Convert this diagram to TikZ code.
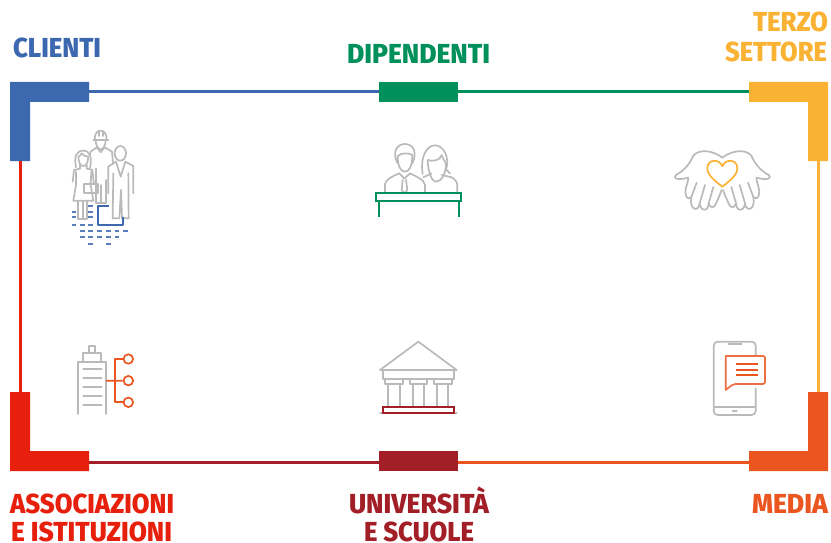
\documentclass[tikz,border=0pt]{standalone}
\usepackage{fontspec}
\usepackage{graphicx}
\newfontfamily\lab{Fira Sans}[BoldFont={Fira Sans ExtraBold}]
\definecolor{cblue}{HTML}{3B68AF}
\definecolor{cgreen}{HTML}{00905C}
\definecolor{cyellow}{HTML}{F9B233}
\definecolor{cred}{HTML}{E6200C}
\definecolor{cdark}{HTML}{A31F27}
\definecolor{corange}{HTML}{EA5520}
\definecolor{cgray}{HTML}{BABABA}
\newcommand{\lbl}[2]{\resizebox{#1pt}{\height}{\fontsize{27.5}{27.5}\lab\bfseries #2}}
\tikzset{
 x=1pt,y=-1pt,
 labeltext/.style={anchor=base west,inner sep=0pt,outer sep=0pt},
 midblock/.style={minimum width=79pt,minimum height=20pt,inner sep=0pt,outer sep=0pt,fill=#1},
 link/.style={line width=3pt,draw=#1},
 ico/.style={draw=cgray,line width=1.7pt,line join=round,line cap=round},
 icoc/.style={draw=#1,line width=1.7pt,line join=round},
}
\begin{document}
\begin{tikzpicture}
\useasboundingbox (0,0) rectangle (831,543);
% corners
\fill[cblue] (10,82) -- (89,82) -- (89,102) -- (30,102) -- (30,161) -- (10,161) -- cycle;
\fill[cyellow] (828,82) -- (749,82) -- (749,102) -- (808,102) -- (808,161) -- (828,161) -- cycle;
\fill[cred] (10,471) -- (89,471) -- (89,451) -- (30,451) -- (30,392) -- (10,392) -- cycle;
\fill[corange] (828,471) -- (749,471) -- (749,451) -- (808,451) -- (808,392) -- (828,392) -- cycle;
\coordinate (tlE) at (89,91.5); \coordinate (tlS) at (20,161);
\coordinate (trW) at (749,91.5); \coordinate (trS) at (818,161);
\coordinate (blE) at (89,462); \coordinate (blN) at (20,392);
\coordinate (brW) at (749,462); \coordinate (brN) at (818,392);
\node[midblock=cgreen] (tc) at (418.5,92) {};
\node[midblock=cdark] (bc) at (418.5,461) {};
\draw[link=cblue] (tlE) -- (tc.west|-tlE);
\draw[link=cgreen] (tc.east|-trW) -- (trW);
\draw[link=cred] (tlS) -- (blN);
\draw[link=cyellow] (trS) -- (brN);
\draw[link=cdark] (blE) -- (bc.west|-blE);
\draw[link=corange] (bc.east|-brW) -- (brW);
% labels
\node[labeltext,text=cblue] (l1) at (13,57.5) {\lbl{88}{CLIENTI}};
\node[labeltext,text=cgreen] (l2) at (347,63.5) {\lbl{143}{DIPENDENTI}};
\node[labeltext,text=cyellow] (l3a) at (753,32) {\lbl{75}{TERZO}};
\node[labeltext,text=cyellow] (l3b) at (725,62) {\lbl{102}{SETTORE}};
\node[labeltext,text=cred] (l4a) at (10,513.5) {\lbl{164}{ASSOCIAZIONI}};
\node[labeltext,text=cred] (l4b) at (11,541.5) {\lbl{161}{E ISTITUZIONI}};
\node[labeltext,text=cdark] (l5a) at (349,513.5) {\lbl{140}{UNIVERSITÀ}};
\node[labeltext,text=cdark] (l5b) at (364,541.5) {\lbl{110}{E SCUOLE}};
\node[labeltext,text=corange] (l6) at (752,513.5) {\lbl{76}{MEDIA}};
% clients icon
\begin{scope}[shift={(50,110)},scale=1/3]
 \draw[ico] (134,88) .. controls (134,68) and (144,62) .. (152,62) .. controls (160,62) and (170,68) .. (170,88);
 \draw[ico] (130,90) -- (175,90) (146,64) -- (146,78) (158,64) -- (158,78);
 \draw[ico] (137,92) .. controls (138,108) and (145,118) .. (152,118) .. controls (159,118) and (166,108) .. (167,92);
 \draw[ico] (140,112) -- (122,125) -- (120,135) (140,112) -- (152,127) -- (164,112) -- (186,125) -- (189,160);
 \draw[ico] (137,175) -- (137,278) -- (168,278) -- (168,210) (152,225) -- (152,278);
 % woman
 \draw[ico] (78,172) .. controls (72,140) and (78,122) .. (100,122) .. controls (122,122) and (126,145) .. (120,175);
 \draw[ico] (85,140) .. controls (86,160) and (92,168) .. (100,168) .. controls (108,168) and (114,160) .. (115,140) .. controls (105,140) and (98,135) .. (95,130) .. controls (92,135) and (88,140) .. (85,140);
 \draw[ico] (90,165) -- (90,176) -- (72,180) -- (68,215) (110,165) -- (110,176) -- (127,180) -- (132,222);
 \draw[ico] (78,185) -- (78,225) -- (70,272) -- (130,272) -- (122,225) -- (124,185);
 \draw[ico] (85,272) -- (85,328) -- (112,328) -- (112,272) (98,275) -- (98,328);
 \draw[ico] (103,222) rectangle (143,250);
 % suit man
 \draw[ico] (211,130) ellipse [x radius=17,y radius=22];
 \draw[ico] (175,250) -- (175,170) -- (198,155) -- (212,200) -- (226,155) -- (250,168) -- (250,250);
 \draw[ico] (190,190) -- (188,325) -- (208,325) -- (213,240) -- (216,325) -- (236,325) -- (235,190);
 \draw[icoc=cblue] (178,288) -- (145,288) -- (145,344) -- (218,344) -- (218,322);
 \foreach \yy/\xlist in {288/115,305/{65,115},322/{65,115},344/{65,90,115},362/{90,115,142,168,194,220},382/{90,115,142,168,194},401/{115,168}}
  \foreach \xx in \xlist
   \draw[cblue!85!white,line width=1.8pt] (\xx,\yy) -- ++(14,0);
\end{scope}
% employees icon
\begin{scope}[shift={(360,130)},scale=1/3]
 \draw[ico] (113,100) .. controls (96,70) and (108,42) .. (135,42) .. controls (162,42) and (172,70) .. (157,100);
 \draw[ico] (113,78) .. controls (125,68) and (145,68) .. (157,75);
 \draw[ico] (113,78) .. controls (113,108) and (122,125) .. (135,125) .. controls (148,125) and (157,108) .. (157,75);
 \draw[ico] (75,190) -- (75,162) .. controls (78,148) and (95,140) .. (118,130) -- (133,146) -- (150,130) .. controls (170,140) and (192,148) .. (195,165) -- (195,190);
 \draw[ico] (128,150) -- (125,180) -- (133,190) -- (142,180) -- (138,150);
 \draw[ico] (188,132) .. controls (180,80) and (200,46) .. (225,46) .. controls (252,46) and (270,85) .. (258,118) -- (270,130);
 \draw[ico] (203,90) .. controls (204,125) and (215,155) .. (228,155) .. controls (245,155) and (258,130) .. (258,100) .. controls (252,90) and (248,85) .. (245,75) .. controls (240,92) and (220,95) .. (203,90);
 \draw[ico] (190,142) -- (215,130) (245,135) -- (275,142) .. controls (285,148) and (292,155) .. (292,168) -- (292,188);
 \draw[cgray!60,line width=1pt] (105,216) -- (160,216);
 \node[draw=cgreen,line width=1.9pt,minimum width=85.3pt,minimum height=8pt,inner sep=0pt,fill=white] (desk) at (176,202) {};
 \coordinate (legL) at (56,262); \coordinate (legR) at (296,262);
 \draw[cgreen,line width=1.9pt] (legL|-desk.south) -- (legL) (legR|-desk.south) -- (legR);
\end{scope}
% hands icon
\begin{scope}[shift={(660,135)},scale=1/3]
 \def\handpath{
 \draw[ico] (187,68) .. controls (165,50) and (120,38) .. (100,62) .. controls (90,85) and (75,105) .. (48,120) .. controls (38,128) and (48,138) .. (85,128);
 \draw[ico] (85,132) .. controls (82,150) and (72,165) .. (78,182) .. controls (82,192) and (90,192) .. (94,186);
 \draw[ico] (110,143) -- (94,186) .. controls (90,205) and (95,222) .. (108,222) .. controls (114,222) and (117,215) .. (119,205);
 \draw[ico] (135,150) -- (119,205) .. controls (120,222) and (132,228) .. (140,222) .. controls (144,218) and (145,212) .. (146,205);
 \draw[ico] (160,156) -- (146,205) .. controls (150,220) and (162,220) .. (167,208) .. controls (175,190) and (180,178) .. (185,165);
 }
 \handpath
 \begin{scope}[shift={(374,0)},xscale=-1]
 \handpath
 \end{scope}
 \draw[icoc=cyellow] (187,155) .. controls (165,138) and (142,120) .. (142,100) .. controls (142,72) and (178,70) .. (187,94) .. controls (196,70) and (232,72) .. (232,100) .. controls (232,120) and (209,138) .. (187,155) -- cycle;
\end{scope}
% institutions icon
\begin{scope}[shift={(60,335)},scale=1/3]
 \draw[ico] (53,237) -- (53,80) -- (138,80) -- (138,237);
 \draw[ico] (68,80) -- (68,55) -- (122,55) -- (122,80);
 \draw[ico] (88,55) -- (88,32) -- (104,32) -- (104,55);
 \foreach \yy in {103,130,157,184,211} \draw[ico] (70,\yy) -- (125,\yy);
 \node[circle,draw=corange,line width=1.7pt,minimum size=9.5pt,inner sep=0pt] (c1) at (205,72) {};
 \node[circle,draw=corange,line width=1.7pt,minimum size=9.5pt,inner sep=0pt] (c2) at (205,137) {};
 \node[circle,draw=corange,line width=1.7pt,minimum size=9.5pt,inner sep=0pt] (c3) at (205,202) {};
 \coordinate (trunk) at (166,137);
 \draw[icoc=corange] (138,137) -- (c2.west);
 \draw[icoc=corange] (c1.west) -| (trunk) |- (c3.west);
\end{scope}
% university icon
\begin{scope}[shift={(365,330)},scale=1/3]
 \draw[ico] (45,120) -- (160,35) -- (275,120) -- cycle;
 \draw[ico] (53,120) -- (53,148) -- (268,148) -- (268,120);
 \foreach \xa/\xb in {60/113,135/187,207/260} \draw[ico] (\xa,148) -- (\xa,163) -- (\xb,163) -- (\xb,148);
 \foreach \xa/\xb in {70/105,143/178,215/250} {\draw[ico] (\xa,163) -- (\xa,232); \draw[ico] (\xb,163) -- (\xb,232);}
 \draw[ico] (45,250) -- (275,250);
 \draw[draw=cdark,line width=1.9pt,fill=white] (53,232) rectangle (268,250);
\end{scope}
% phone icon
\begin{scope}[shift={(700,330)},scale=1/3]
 \draw[ico,rounded corners=4pt] (167,78) -- (167,35) -- (41,35) -- (41,255) -- (167,255) -- (167,175);
 \draw[ico] (41,232) -- (167,232) (85,41) -- (125,41) (98,243) -- (110,243);
 \draw[icoc=corange!85!white,rounded corners=2pt] (85,78) -- (195,78) -- (195,162) -- (100,162) [sharp corners] -- (77,180) -- (77,78) [rounded corners=2pt] -- cycle;
 \foreach \yy in {103,119,134} \draw[icoc=corange] (108,\yy) -- (173,\yy);
\end{scope}
\end{tikzpicture}
\end{document}
